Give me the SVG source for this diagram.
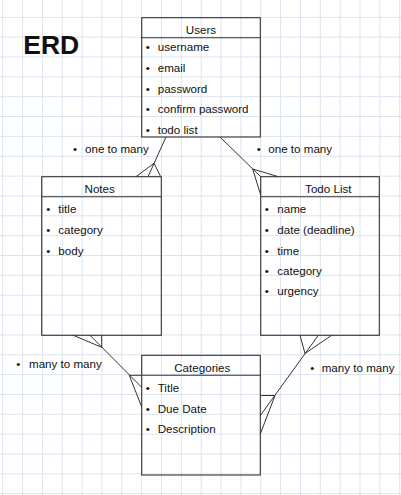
<svg xmlns="http://www.w3.org/2000/svg" width="401" height="495" viewBox="0 0 401 495">
<style>
.grid{stroke:#dce3ee;stroke-width:1;fill:none}
.box{fill:none;stroke:#333;stroke-width:1.1}
.t{font-family:"Liberation Sans",Arial,Helvetica,sans-serif;font-size:11.6px;fill:#111}
.c{text-anchor:middle}
.edge{stroke:#333;stroke-width:1;fill:none}
</style>
<rect width="401" height="495" fill="#ffffff"/>
<path class="grid" d="M2.7 0V495M22.55 0V495M42.4 0V495M62.25 0V495M82.1 0V495M101.95 0V495M121.8 0V495M141.65 0V495M161.5 0V495M181.35 0V495M201.2 0V495M221.05 0V495M240.9 0V495M260.75 0V495M280.6 0V495M300.45 0V495M320.3 0V495M340.15 0V495M360 0V495M379.85 0V495M399.7 0V495
M0 17.3H401M0 37.15H401M0 57H401M0 76.85H401M0 96.7H401M0 116.55H401M0 136.4H401M0 156.25H401M0 176.1H401M0 195.95H401M0 215.8H401M0 235.65H401M0 255.5H401M0 275.35H401M0 295.2H401M0 315.05H401M0 334.9H401M0 354.75H401M0 374.6H401M0 394.45H401M0 414.3H401M0 434.15H401M0 454H401M0 473.85H401M0 493.7H401"/>
<text class="t" x="23.3" y="54" style="font-size:26.5px;font-weight:bold">ERD</text>
<g id="connectors">
<path class="edge" d="M166 137L148 176.7M136 176.7L154 163.3L160.7 176.7"/>
<path class="edge" d="M220 137L260.7 176.7M278.3 176.7L252.7 169L260.7 195"/>
<path class="edge" d="M90 335.3L141.7 387.3M73.3 335.3L101.7 347.3L101.7 335.3M141.7 375.3L129.3 375.3L141.7 407"/>
<path class="edge" d="M318.3 335.3L260.3 415.5M300 335.3L305 353.5L331.7 335.3M260.3 395.5L275 395.5L260.3 434"/>
</g>
<g id="label-users-notes"><text class="t"><tspan x="75" y="153.3" class="c">•</tspan><tspan x="85" y="153.3">one to many</tspan></text></g>
<g id="label-users-todo"><text class="t"><tspan x="258.7" y="153.3" class="c">•</tspan><tspan x="268.3" y="153.3">one to many</tspan></text></g>
<g id="label-notes-categories"><text class="t"><tspan x="18.3" y="368.3" class="c">•</tspan><tspan x="29" y="368.3">many to many</tspan></text></g>
<g id="label-todo-categories"><text class="t"><tspan x="312.3" y="371.7" class="c">•</tspan><tspan x="321.7" y="371.7">many to many</tspan></text></g>
<g id="users">
<rect class="box" x="141.7" y="17.7" width="118.6" height="119.3"/>
<line class="box" x1="141.7" y1="37.7" x2="260.3" y2="37.7"/>
<text class="t c" x="201" y="34.2">Users</text>
<text class="t"><tspan x="147.7" y="51" class="c">•</tspan><tspan x="157.7" y="51">username</tspan></text>
<text class="t"><tspan x="147.7" y="71.75" class="c">•</tspan><tspan x="157.7" y="71.75">email</tspan></text>
<text class="t"><tspan x="147.7" y="92.5" class="c">•</tspan><tspan x="157.7" y="92.5">password</tspan></text>
<text class="t"><tspan x="147.7" y="113.25" class="c">•</tspan><tspan x="157.7" y="113.25">confirm password</tspan></text>
<text class="t"><tspan x="147.7" y="134" class="c">•</tspan><tspan x="157.7" y="134">todo list</tspan></text>
</g>
<g id="notes">
<rect class="box" x="41.7" y="176.7" width="119.6" height="158.6"/>
<line class="box" x1="41.7" y1="196.7" x2="161.3" y2="196.7"/>
<text class="t c" x="99.7" y="193.3">Notes</text>
<text class="t"><tspan x="48.3" y="213.3" class="c">•</tspan><tspan x="58.3" y="213.3">title</tspan></text>
<text class="t"><tspan x="48.3" y="234" class="c">•</tspan><tspan x="58.3" y="234">category</tspan></text>
<text class="t"><tspan x="48.3" y="254.5" class="c">•</tspan><tspan x="58.3" y="254.5">body</tspan></text>
</g>
<g id="todo-list">
<rect class="box" x="260.7" y="176.7" width="118.6" height="158.6"/>
<line class="box" x1="260.7" y1="196.7" x2="379.3" y2="196.7"/>
<text class="t c" x="328.3" y="193.3">Todo List</text>
<text class="t"><tspan x="266.7" y="213.3" class="c">•</tspan><tspan x="277.3" y="213.3">name</tspan></text>
<text class="t"><tspan x="266.7" y="234" class="c">•</tspan><tspan x="277.3" y="234">date (deadline)</tspan></text>
<text class="t"><tspan x="266.7" y="254.5" class="c">•</tspan><tspan x="277.3" y="254.5">time</tspan></text>
<text class="t"><tspan x="266.7" y="274.5" class="c">•</tspan><tspan x="277.3" y="274.5">category</tspan></text>
<text class="t"><tspan x="266.7" y="295" class="c">•</tspan><tspan x="277.3" y="295">urgency</tspan></text>
</g>
<g id="categories">
<rect class="box" x="141.7" y="355.3" width="118.6" height="119.7"/>
<line class="box" x1="141.7" y1="375.3" x2="260.3" y2="375.3"/>
<text class="t c" x="202.3" y="371.7">Categories</text>
<text class="t"><tspan x="147.7" y="391.7" class="c">•</tspan><tspan x="157.7" y="391.7">Title</tspan></text>
<text class="t"><tspan x="147.7" y="412.7" class="c">•</tspan><tspan x="157.7" y="412.7">Due Date</tspan></text>
<text class="t"><tspan x="147.7" y="433.3" class="c">•</tspan><tspan x="157.7" y="433.3">Description</tspan></text>
</g>
</svg>
